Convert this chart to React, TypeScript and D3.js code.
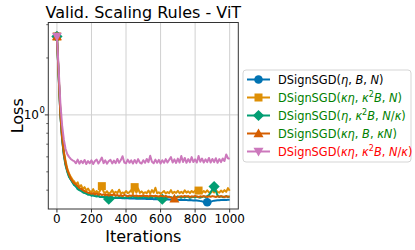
import React from 'react';
import * as d3 from 'd3';

// iterations sampled every 10 steps
const iterations = [
  0, 10, 20, 30, 40, 50, 60, 70, 80, 90, 100, 110, 120, 130, 140, 150, 160, 170, 180, 190,
  200, 210, 220, 230, 240, 250, 260, 270, 280, 290, 300, 310, 320, 330, 340, 350, 360, 370, 380, 390,
  400, 410, 420, 430, 440, 450, 460, 470, 480, 490, 500, 510, 520, 530, 540, 550, 560, 570, 580, 590,
  600, 610, 620, 630, 640, 650, 660, 670, 680, 690, 700, 710, 720, 730, 740, 750, 760, 770, 780, 790,
  800, 810, 820, 830, 840, 850, 860, 870, 880, 890, 900, 910, 920, 930, 940, 950, 960, 970, 980, 990, 1000,
];

const lossBase = [
  2.6, 1.58, 1.0, 0.75, 0.62, 0.55, 0.505, 0.475, 0.455, 0.44,
  0.428, 0.418, 0.41, 0.402, 0.397, 0.392, 0.388, 0.384, 0.381, 0.379,
  0.376, 0.375, 0.373, 0.372, 0.371, 0.369, 0.368, 0.368, 0.367, 0.366,
  0.366, 0.365, 0.365, 0.364, 0.364, 0.363, 0.364, 0.363, 0.362, 0.363,
  0.362, 0.362, 0.361, 0.362, 0.361, 0.361, 0.36, 0.361, 0.36, 0.36,
  0.361, 0.36, 0.359, 0.36, 0.359, 0.36, 0.358, 0.359, 0.358, 0.359,
  0.358, 0.357, 0.358, 0.357, 0.358, 0.357, 0.356, 0.357, 0.356, 0.357,
  0.356, 0.355, 0.356, 0.355, 0.356, 0.355, 0.354, 0.355, 0.354, 0.353,
  0.354, 0.353, 0.352, 0.35, 0.349, 0.347, 0.346, 0.345, 0.346, 0.348,
  0.35, 0.352, 0.353, 0.354, 0.354, 0.355, 0.355, 0.356, 0.355, 0.356, 0.356,
];

const lossKappaEta = [
  2.6, 1.65, 1.05, 0.78, 0.64, 0.57, 0.52, 0.49, 0.47, 0.455,
  0.445, 0.43, 0.44, 0.415, 0.425, 0.405, 0.415, 0.398, 0.408, 0.395,
  0.39, 0.405, 0.387, 0.396, 0.385, 0.398, 0.42, 0.392, 0.386, 0.395,
  0.383, 0.388, 0.4, 0.384, 0.392, 0.386, 0.402, 0.383, 0.389, 0.385,
  0.396, 0.386, 0.39, 0.4, 0.384, 0.415, 0.388, 0.408, 0.387, 0.394,
  0.385, 0.39, 0.386, 0.398, 0.384, 0.4, 0.388, 0.412, 0.385, 0.39,
  0.383, 0.389, 0.396, 0.384, 0.391, 0.386, 0.4, 0.385, 0.392, 0.387,
  0.397, 0.386, 0.392, 0.385, 0.399, 0.388, 0.394, 0.386, 0.396, 0.389,
  0.398, 0.402, 0.398, 0.393, 0.387, 0.396, 0.389, 0.399, 0.39, 0.387,
  0.397, 0.389, 0.402, 0.391, 0.388, 0.398, 0.39, 0.4, 0.392, 0.41, 0.397,
];

const lossBatchWorkers = [
  2.6, 1.62, 1.01, 0.74, 0.61, 0.54, 0.5, 0.47, 0.455, 0.44,
  0.425, 0.42, 0.405, 0.4, 0.398, 0.39, 0.386, 0.385, 0.378, 0.38,
  0.374, 0.377, 0.372, 0.37, 0.374, 0.368, 0.37, 0.366, 0.369, 0.364,
  0.358, 0.366, 0.368, 0.363, 0.367, 0.364, 0.369, 0.365, 0.368, 0.363,
  0.366, 0.37, 0.364, 0.367, 0.372, 0.365, 0.368, 0.363, 0.367, 0.365,
  0.37, 0.366, 0.368, 0.364, 0.369, 0.366, 0.371, 0.367, 0.364, 0.368,
  0.362, 0.358, 0.365, 0.369, 0.366, 0.37, 0.367, 0.364, 0.368, 0.366,
  0.371, 0.367, 0.365, 0.369, 0.366, 0.37, 0.368, 0.364, 0.367, 0.369,
  0.366, 0.37, 0.367, 0.365, 0.368, 0.371, 0.367, 0.372, 0.376, 0.39,
  0.405, 0.418, 0.395, 0.375, 0.368, 0.371, 0.367, 0.369, 0.372, 0.368, 0.37,
];

const lossKappaN = [
  2.6, 1.6, 1.0, 0.76, 0.63, 0.555, 0.51, 0.485, 0.46, 0.447,
  0.435, 0.428, 0.42, 0.41, 0.406, 0.4, 0.395, 0.392, 0.388, 0.386,
  0.383, 0.386, 0.38, 0.384, 0.378, 0.382, 0.377, 0.38, 0.375, 0.379,
  0.374, 0.378, 0.376, 0.38, 0.374, 0.377, 0.373, 0.376, 0.372, 0.377,
  0.374, 0.371, 0.375, 0.373, 0.377, 0.372, 0.375, 0.371, 0.374, 0.372,
  0.376, 0.372, 0.374, 0.37, 0.375, 0.373, 0.371, 0.374, 0.372, 0.37,
  0.374, 0.372, 0.37, 0.373, 0.369, 0.368, 0.366, 0.362, 0.36, 0.363,
  0.367, 0.37, 0.372, 0.369, 0.373, 0.37, 0.372, 0.368, 0.371, 0.369,
  0.373, 0.37, 0.368, 0.371, 0.369, 0.372, 0.37, 0.368, 0.371, 0.369,
  0.372, 0.37, 0.368, 0.371, 0.369, 0.372, 0.37, 0.368, 0.371, 0.369, 0.37,
];

const lossAllScaled = [
  2.6, 1.75, 1.15, 0.88, 0.74, 0.66, 0.62, 0.6, 0.585, 0.575,
  0.57, 0.555, 0.58, 0.552, 0.572, 0.556, 0.578, 0.55, 0.57, 0.555,
  0.575, 0.55, 0.57, 0.58, 0.553, 0.572, 0.595, 0.556, 0.575, 0.552,
  0.57, 0.578, 0.554, 0.573, 0.556, 0.585, 0.558, 0.577, 0.605, 0.56,
  0.555, 0.58, 0.558, 0.575, 0.553, 0.578, 0.556, 0.584, 0.56, 0.553,
  0.576, 0.558, 0.585, 0.562, 0.608, 0.565, 0.555, 0.58, 0.558, 0.578,
  0.553, 0.576, 0.558, 0.584, 0.56, 0.579, 0.598, 0.56, 0.582, 0.557,
  0.587, 0.56, 0.606, 0.563, 0.592, 0.558, 0.584, 0.562, 0.598, 0.563,
  0.582, 0.56, 0.606, 0.565, 0.588, 0.56, 0.582, 0.563, 0.592, 0.56,
  0.585, 0.563, 0.59, 0.558, 0.584, 0.563, 0.588, 0.57, 0.618, 0.59, 0.585,
];

const xTicks = [0, 200, 400, 600, 800, 1000];
const yMinorTicks = [0.4, 0.5, 0.6, 0.7, 0.8, 0.9, 2, 3];

type Seg = [string, 'n' | 'i' | 's'];

const series = [
  {
    values: lossBase, color: '#0173b2', marker: 'circle', markAt: [0, 870], textColor: '#000000',
    label: [['DSignSGD(', 'n'], ['η', 'i'], [', ', 'n'], ['B', 'i'], [', ', 'n'], ['N', 'i'], [')', 'n']] as Seg[],
  },
  {
    values: lossKappaEta, color: '#de8f05', marker: 'square', markAt: [0, 260, 450, 820], textColor: '#008000',
    label: [['DSignSGD(', 'n'], ['κη', 'i'], [', ', 'n'], ['κ', 'i'], ['2', 's'], ['B', 'i'], [', ', 'n'], ['N', 'i'], [')', 'n']] as Seg[],
  },
  {
    values: lossBatchWorkers, color: '#029e73', marker: 'diamond', markAt: [0, 300, 610, 910], textColor: '#008000',
    label: [['DSignSGD(', 'n'], ['η', 'i'], [', ', 'n'], ['κ', 'i'], ['2', 's'], ['B', 'i'], [', ', 'n'], ['N', 'i'], ['/', 'n'], ['κ', 'i'], [')', 'n']] as Seg[],
  },
  {
    values: lossKappaN, color: '#d55e00', marker: 'triangle', markAt: [0, 680], textColor: '#008000',
    label: [['DSignSGD(', 'n'], ['κη', 'i'], [', ', 'n'], ['B', 'i'], [', ', 'n'], ['κN', 'i'], [')', 'n']] as Seg[],
  },
  {
    values: lossAllScaled, color: '#cc78bc', marker: 'triangleDown', markAt: [0], textColor: '#ff0000',
    label: [['DSignSGD(', 'n'], ['κη', 'i'], [', ', 'n'], ['κ', 'i'], ['2', 's'], ['B', 'i'], [', ', 'n'], ['N', 'i'], ['/', 'n'], ['κ', 'i'], [')', 'n']] as Seg[],
  },
];

const W = 415;
const H = 250;
const plot = { left: 48.3, right: 238.3, top: 22.5, bottom: 209 };
const font = 'DejaVu Sans, sans-serif';

const x = d3.scaleLinear().domain([-50, 1050]).range([plot.left, plot.right]);
const y = d3.scaleLog().domain([0.318, 3.08]).range([plot.bottom, plot.top]);

function Marker({ kind, cx, cy, color }: { kind: string; cx: number; cy: number; color: string }) {
  if (kind === 'circle') return <circle cx={cx} cy={cy} r={4.3} fill={color} />;
  if (kind === 'square') return <rect x={cx - 4} y={cy - 4} width={8} height={8} fill={color} />;
  if (kind === 'diamond') {
    const r = 5.6;
    const pts = [[cx, cy - r], [cx + r, cy], [cx, cy + r], [cx - r, cy]];
    return <polygon points={pts.map(p => p.join(',')).join(' ')} fill={color} />;
  }
  const r = 5;
  const pts = kind === 'triangle'
    ? [[cx, cy - r], [cx + r, cy + r * 0.75], [cx - r, cy + r * 0.75]]
    : [[cx, cy + r], [cx + r, cy - r * 0.75], [cx - r, cy - r * 0.75]];
  return <polygon points={pts.map(p => p.join(',')).join(' ')} fill={color} />;
}

function MathLabel({ segs, tx, ty, color }: { segs: Seg[]; tx: number; ty: number; color: string }) {
  let shifted = false;
  return (
    <text x={tx} y={ty} fontSize={11.4} fontFamily={font} fill={color}>
      {segs.map(([t, k], i) => {
        let dy = 0;
        if (k === 's' && !shifted) { dy = -4.3; shifted = true; }
        else if (k !== 's' && shifted) { dy = 4.3; shifted = false; }
        return (
          <tspan key={i} dy={dy || undefined} fontStyle={k === 'i' ? 'italic' : 'normal'} fontSize={k === 's' ? 8 : 11.4}>
            {t}
          </tspan>
        );
      })}
    </text>
  );
}

export default function App() {
  const line = d3.line<number>()
    .x((_, i) => x(iterations[i]))
    .y(d => y(d));

  const legendX = 243;
  const legendY = 70;
  const rowGap = 18;

  return (
    <svg width={W} height={H} style={{ position: 'absolute', left: 0, top: 0, background: '#fff' }}>
      <rect width={W} height={H} fill="#fff" />
      <defs>
        <clipPath id="plotClip">
          <rect x={plot.left} y={plot.top} width={plot.right - plot.left} height={plot.bottom - plot.top} />
        </clipPath>
      </defs>

      {/* grid */}
      {xTicks.map(t => (
        <line key={t} x1={x(t)} x2={x(t)} y1={plot.top} y2={plot.bottom} stroke="#d0d0d0" strokeWidth={1} />
      ))}
      <line x1={plot.left} x2={plot.right} y1={y(1)} y2={y(1)} stroke="#d0d0d0" strokeWidth={1} />

      {/* series */}
      <g clipPath="url(#plotClip)">
        {series.map((s, si) => (
          <g key={si}>
            <path d={line(s.values) || ''} fill="none" stroke={s.color} strokeWidth={2} strokeLinejoin="round" />
            {s.markAt.map(it => {
              const idx = iterations.indexOf(it);
              return <Marker key={it} kind={s.marker} cx={x(it)} cy={y(s.values[idx])} color={s.color} />;
            })}
          </g>
        ))}
      </g>

      {/* frame */}
      <rect x={plot.left} y={plot.top} width={plot.right - plot.left} height={plot.bottom - plot.top}
        fill="none" stroke="#333" strokeWidth={1} />

      {/* x axis */}
      {xTicks.map(t => (
        <g key={t}>
          <line x1={x(t)} x2={x(t)} y1={plot.bottom} y2={plot.bottom + 3.5} stroke="#333" />
          <text x={x(t)} y={223} fontSize={12} fontFamily={font} textAnchor="middle" fill="#000">{t}</text>
        </g>
      ))}
      <text x={(plot.left + plot.right) / 2} y={242} fontSize={16} fontFamily={font} textAnchor="middle" fill="#000">Iterations</text>

      {/* y axis */}
      <line x1={plot.left - 3.5} x2={plot.left} y1={y(1)} y2={y(1)} stroke="#333" />
      {yMinorTicks.map(t => (
        <line key={t} x1={plot.left - 2} x2={plot.left} y1={y(t)} y2={y(t)} stroke="#333" strokeWidth={0.8} />
      ))}
      <text x={39} y={119} fontSize={12} fontFamily={font} textAnchor="end" fill="#000">10</text>
      <text x={39.5} y={113} fontSize={8.5} fontFamily={font} fill="#000">0</text>
      <text transform={`translate(23,${(plot.top + plot.bottom) / 2}) rotate(-90)`} fontSize={16} fontFamily={font}
        textAnchor="middle" fill="#000">Loss</text>

      {/* title */}
      <text x={(plot.left + plot.right) / 2} y={17.5} fontSize={16} fontFamily={font} textAnchor="middle" fill="#000">
        Valid. Scaling Rules - ViT
      </text>

      {/* legend */}
      <rect x={legendX} y={legendY} width={168} height={92} rx={3} fill="#fff" fillOpacity={0.8} stroke="#d5d5d5" />
      {series.map((s, i) => {
        const ly = legendY + 9.5 + i * rowGap;
        return (
          <g key={i}>
            <line x1={legendX + 4} x2={legendX + 27} y1={ly} y2={ly} stroke={s.color} strokeWidth={2} />
            <Marker kind={s.marker} cx={legendX + 15.5} cy={ly} color={s.color} />
            <MathLabel segs={s.label} tx={legendX + 35} ty={ly + 4.1} color={s.textColor} />
          </g>
        );
      })}
    </svg>
  );
}
